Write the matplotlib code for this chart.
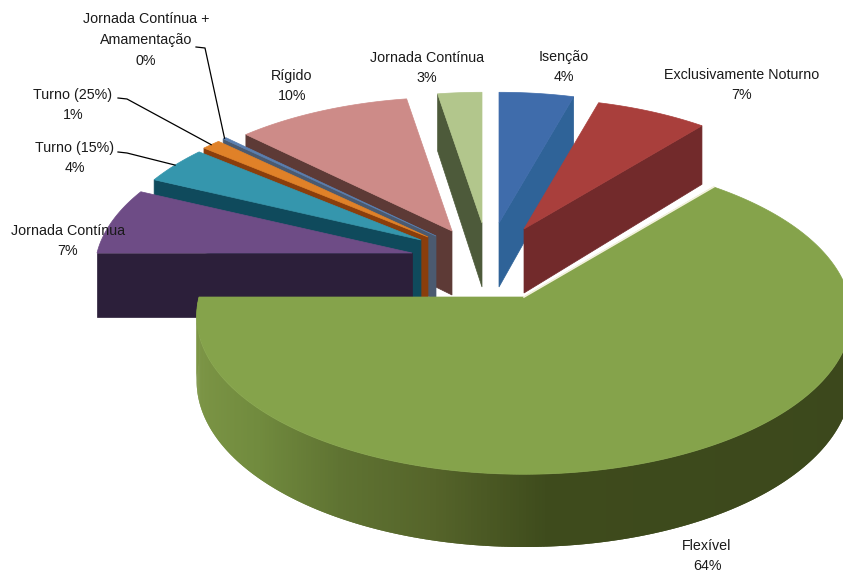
import numpy as np
import matplotlib
matplotlib.use("Agg")
import matplotlib.pyplot as plt

plt.rcParams['font.family'] = ['Liberation Sans', 'DejaVu Sans']

names = ["Isenção", "Exclusivamente Noturno", "Flexível", "Jornada Contínua",
         "Turno (15%)", "Turno (25%)", "Jornada Contínua +\nAmamentação",
         "Rígido", "Jornada Contínua"]
values = [4.4, 6.6, 64, 7, 4, 1.1, 0.2, 10.1, 2.6]

top_colors = ["#3f6cab", "#a93f3c", "#85a34b", "#6e4c86", "#3596ad",
              "#e08128", "#5a7fb0", "#cd8b88", "#b2c68c"]
wall_colors = ["#2f6398", "#722a2b", "#3f4d1c", "#2c1f3a", "#0f4a5c",
               "#8a3e0c", "#4b5a70", "#5d3a36", "#4d5a3a"]

# where each exploded slice has its tip, and its radius
tips = [(499, 223), (524, 229), (524, 297), (412, 253), (421, 240),
        (428, 237), (436, 236), (452, 231), (482, 223)]
radii = [305, 305, 325, 315, 310, 313, 318, 312, 305]
draw_order = [8, 0, 7, 6, 5, 4, 3, 1, 2]

label_pos = [(564, 67), (742, 85), (707, 556), (68, 241), (75, 158),
             (73, 105), (146, 40), (292, 86), (427, 68)]
# knee of the leader line, for the labels that have one
leaders = {4: [(118, 152), (127, 153)], 5: [(118, 98), (127, 99)],
           6: [(196, 47), (205, 48)]}

SQUASH = 0.48
PERSP = 0.12
HEIGHT = 64


def project(tip, r, phi):
    s = 1 / (1 + PERSP * np.cos(phi))
    x = tip[0] + r * np.sin(phi) * s
    y = tip[1] - r * SQUASH * np.cos(phi) * s
    return x, y, s


def rim_color(phi):
    # side of the big slice goes from light olive on the left to dark on the right
    pos = np.sin(phi)
    xp = [-1, -0.75, -0.5, -0.24, 0.07, 1]
    r = np.interp(pos, xp, [125, 113, 95, 85, 62, 60])
    g = np.interp(pos, xp, [150, 139, 115, 100, 75, 72])
    b = np.interp(pos, xp, [70, 62, 50, 42, 28, 28])
    return (r / 255, g / 255, b / 255)


fig = plt.figure(figsize=(8.43, 5.77), dpi=100)
ax = fig.add_axes([0, 0, 1, 1])
ax.set_xlim(0, 843)
ax.set_ylim(577, 0)
ax.axis("off")

edges = np.deg2rad(np.cumsum([0] + values) * 360 / sum(values))

for i in draw_order:
    a0, a1 = edges[i], edges[i + 1]
    tip = tips[i]
    r = radii[i]
    phis = np.linspace(a0, a1, max(int(np.degrees(a1 - a0) * 2), 4))
    x, y, s = project(tip, r, phis)

    # flat cut face of the slice
    if a1 - a0 < np.pi:
        cut = a1 if (a0 + a1) / 2 < np.pi else a0
        cx, cy, cs = project(tip, r, cut)
        ax.fill([tip[0], cx, cx, tip[0]],
                [tip[1], cy, cy + HEIGHT * cs, tip[1] + HEIGHT],
                color=wall_colors[i], lw=0.5)

    # outer side, only where it faces the viewer; each facet overlaps the next one
    for k in range(len(phis) - 1):
        if np.cos(phis[k]) < -1e-6:
            n = min(k + 2, len(phis) - 1)
            ax.fill([x[k], x[k + 1], x[n], x[n], x[k + 1], x[k]],
                    [y[k], y[k + 1], y[n], y[n] + HEIGHT * s[n],
                     y[k + 1] + HEIGHT * s[k + 1], y[k] + HEIGHT * s[k]],
                    color=rim_color(phis[k]), lw=0)

    ax.fill(np.r_[tip[0], x], np.r_[tip[1], y], color=top_colors[i], lw=0.5)

# pale seam along the right cut of the big slice
sx, sy, _ = project(tips[2], radii[2], edges[2])
ax.plot([tips[2][0], sx], [tips[2][1], sy], color="#f3f1dc", lw=1.2)

for i, name in enumerate(names):
    ax.text(label_pos[i][0], label_pos[i][1], "%s\n%d%%" % (name, round(values[i])),
            ha="center", va="center", fontsize=10.3, color="#1a1a1a",
            linespacing=1.6, zorder=10)
    if i in leaders:
        mid = (edges[i] + edges[i + 1]) / 2
        ex, ey, _ = project(tips[i], radii[i], mid)
        pts = leaders[i] + [(ex, ey)]
        ax.plot([p[0] for p in pts], [p[1] for p in pts], color="black", lw=0.9, zorder=9)

fig.savefig("out.png", dpi=100, facecolor="white")
